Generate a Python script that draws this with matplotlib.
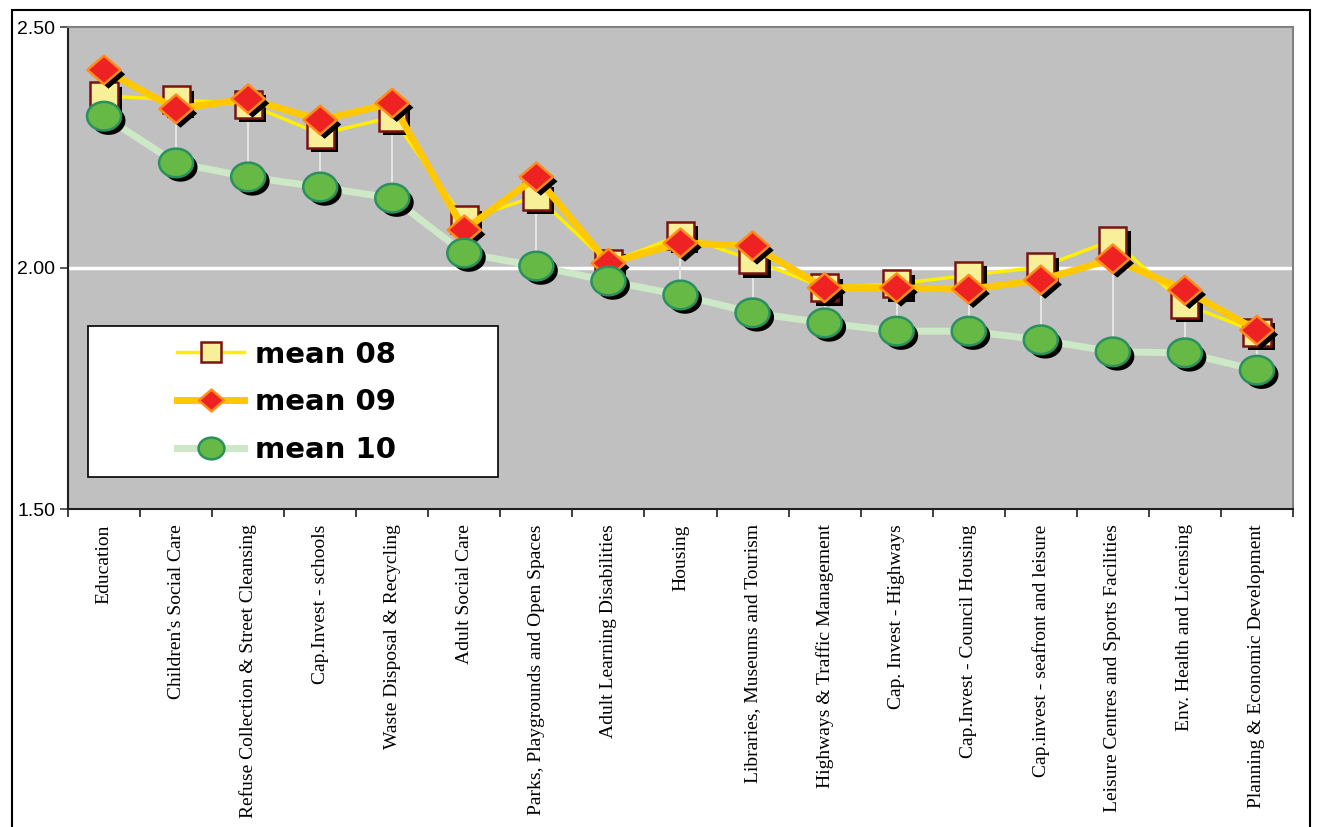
import numpy as np
import matplotlib.pyplot as plt
from matplotlib.path import Path
from matplotlib.patches import Rectangle
from matplotlib.lines import Line2D
import matplotlib.patheffects as pe

services = [
    "Education", "Children's Social Care", "Refuse Collection & Street Cleansing",
    "Cap.Invest - schools", "Waste Disposal & Recycling", "Adult Social Care",
    "Parks, Playgrounds and Open Spaces", "Adult Learning Disabilities", "Housing",
    "Libraries, Museums and Tourism", "Highways & Traffic Management",
    "Cap. Invest - Highways", "Cap.Invest - Council Housing",
    "Cap.invest - seafront and leisure", "Leisure Centres and Sports Facilities",
    "Env. Health and Licensing", "Planning & Economic Development",
]
mean_08 = [2.357, 2.349, 2.340, 2.278, 2.313, 2.100, 2.149, 2.010, 2.068,
           2.017, 1.959, 1.967, 1.985, 2.002, 2.058, 1.925, 1.867]
mean_09 = [2.411, 2.330, 2.351, 2.307, 2.342, 2.079, 2.189, 2.010, 2.052,
           2.046, 1.959, 1.959, 1.956, 1.975, 2.019, 1.954, 1.871]
mean_10 = [2.315, 2.218, 2.189, 2.168, 2.145, 2.031, 2.004, 1.973, 1.944,
           1.907, 1.886, 1.869, 1.869, 1.851, 1.826, 1.824, 1.788]
yticks = [1.50, 2.00, 2.50]

x = np.arange(len(services))

# wide ellipse and diamond markers
t = np.linspace(0, 2 * np.pi, 64)
ellipse = Path(np.column_stack([0.5 * np.cos(t), 0.42 * np.sin(t)]), closed=True)
diamond = Path([(0, 0.43), (0.5, 0), (0, -0.43), (-0.5, 0), (0, 0.43)], closed=True)

fig = plt.figure(figsize=(13.18, 8.27), dpi=100)
ax = fig.add_axes([68 / 1318, 1 - 509 / 827, 1225 / 1318, 482 / 827])
ax.set_facecolor('#c0c0c0')
ax.set_xlim(-0.5, len(services) - 0.5)
ax.set_ylim(1.5, 2.5)

ax.axhline(2.0, color='white', lw=2.5, zorder=1)

# high-low lines between the series
stack = np.array([mean_08, mean_09, mean_10])
ax.vlines(x, stack.min(axis=0), stack.max(axis=0), color='#e4e4e4', lw=1.5, zorder=2)

shadow = [pe.SimplePatchShadow(offset=(3.2, -3.2), shadow_rgbFace='black', alpha=1.0), pe.Normal()]

series = [
    (mean_08, 'mean 08', '#ffee00', 2.5, 's', 19.5, '#f8f098', '#7a1414', 1.8),
    (mean_09, 'mean 09', '#ffc800', 5.0, diamond, 24, '#ee2222', '#ff8c1a', 1.8),
    (mean_10, 'mean 10', '#cde8c6', 5.0, ellipse, 24.5, '#66b944', '#2a9060', 1.8),
]
handles = []
z = 3
for vals, name, lc, lw, mk, ms, mfc, mec, mew in series:
    ax.plot(x, vals, color=lc, lw=lw, solid_capstyle='round', zorder=z)
    m, = ax.plot(x, vals, ls='none', marker=mk, ms=ms, mfc=mfc, mec=mec, mew=mew, zorder=z + 1)
    m.set_path_effects(shadow)
    handles.append(Line2D([], [], color=lc, lw=lw, marker=mk, ms=ms * 0.76,
                          mfc=mfc, mec=mec, mew=mew, label=name))
    z += 2

# legend box
ax.add_patch(Rectangle(((88 - 68) / 1225, (509 - 477) / 482), 410 / 1225, 151 / 482,
                       transform=ax.transAxes, facecolor='white', edgecolor='black',
                       lw=1.2, zorder=20))
leg = ax.legend(handles=handles, loc='center left', bbox_to_anchor=((177 - 68) / 1225, 0.221),
                frameon=False, borderpad=0, borderaxespad=0, handlelength=2.3,
                handletextpad=0.38, labelspacing=0.68,
                prop={'family': 'DejaVu Sans', 'weight': 'bold', 'size': 21})
leg.set_zorder(21)

ax.set_yticks(yticks)
ax.set_yticklabels([f'{v:.2f}' for v in yticks], fontsize=14, family='Liberation Sans')
ax.tick_params(axis='y', direction='out', length=6, width=1.2, color='#404040', pad=3)

ax.set_xticks(x)
ax.set_xticklabels(services, rotation=90, va='top', ha='center',
                   fontsize=14, family='Liberation Serif')
ax.tick_params(axis='x', which='major', length=0, pad=11)
ax.set_xticks(np.arange(len(services) + 1) - 0.5, minor=True)
ax.tick_params(axis='x', which='minor', direction='out', length=6, width=1.2, color='#202020')

for side in ['left', 'bottom']:
    ax.spines[side].set_color('#202020')
    ax.spines[side].set_linewidth(1.5)
for side in ['top', 'right']:
    ax.spines[side].set_color('#808080')
    ax.spines[side].set_linewidth(1.5)

# outer frame
fig.add_artist(Rectangle((12 / 1318, -0.05), 1298 / 1318, 1.05 - 10 / 827,
                         transform=fig.transFigure, fill=False, edgecolor='black', lw=1.5))

fig.savefig('out.png', dpi=100)
